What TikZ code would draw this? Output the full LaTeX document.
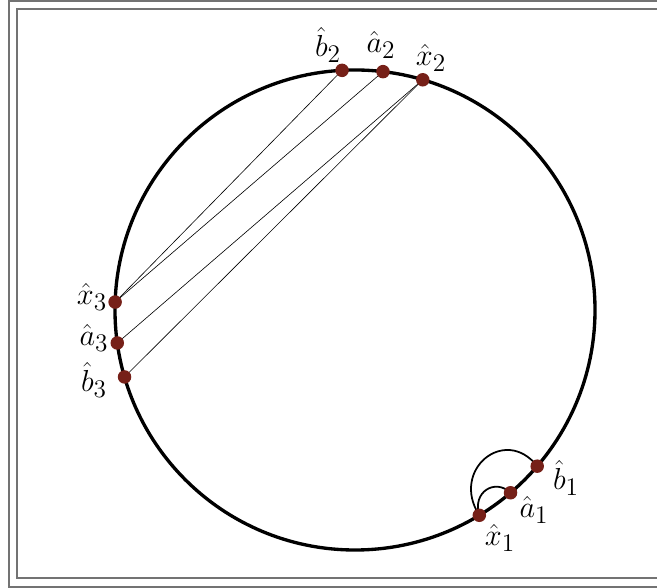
\documentclass[tikz,border=0pt]{standalone}
\usepackage{amsmath,amssymb}
\usepackage{tikz}
\usetikzlibrary{positioning}
\definecolor{ptred}{RGB}{118,32,24}
\tikzset{
  pt/.style={circle, fill=ptred, inner sep=0pt, minimum size=0.27cm},
  lbl/.style={font=\fontsize{19}{22}\selectfont, inner sep=1pt},
  chord/.style={line width=0.35pt, black},
  hop/.style={line width=1pt, black},
  frameline/.style={draw=black!55, line width=0.8pt}
}

\begin{document}
\begin{tikzpicture}
  % picture area
  \clip (-7.1,-5.56) rectangle (6.04,6.2);
  \draw[frameline] (-6.92,-5.54) rectangle (7.0,6.18);
  \draw[frameline] (-6.76,-5.36) rectangle (6.8,6.02);

  % the circle
  \draw[line width=1.9pt] (0,0) circle (4.8);

  % points on the circle
  \coordinate (cb2) at (93.1:4.8);
  \coordinate (ca2) at (83.3:4.8);
  \coordinate (cx2) at (73.6:4.8);
  \coordinate (cx3) at (178.1:4.8);
  \coordinate (ca3) at (187.9:4.8);
  \coordinate (cb3) at (196.2:4.8);
  \coordinate (cb1) at (-40.6:4.8);
  \coordinate (ca1) at (-49.6:4.8);
  \coordinate (cx1) at (-58.8:4.8);

  % chords
  \draw[chord] (cx3) -- (cb2);
  \draw[chord] (cx3) -- (ca2);
  \draw[chord] (ca3) -- (cx2);
  \draw[chord] (cb3) -- (cx2);

  % arcs
  \draw[hop] (cb1) .. controls (3.0,-2.3) and (1.9,-3.2) .. (cx1);
  \draw[hop] (ca1) .. controls (2.8,-3.36) and (2.34,-3.64) .. (cx1);

  % dots
  \node[pt] (b2) at (cb2) {};
  \node[pt] (a2) at (ca2) {};
  \node[pt] (x2) at (cx2) {};
  \node[pt] (x3) at (cx3) {};
  \node[pt] (a3) at (ca3) {};
  \node[pt] (b3) at (cb3) {};
  \node[pt] (b1) at (cb1) {};
  \node[pt] (a1) at (ca1) {};
  \node[pt] (x1) at (cx1) {};

  % labels
  \node[lbl] (lb2) at (-0.54,5.3) {$\hat{b}_2$};
  \node[lbl] (la2) at (0.52,5.3) {$\hat{a}_2$};
  \node[lbl] (lx2) at (1.52,5.04) {$\hat{x}_2$};
  \node[lbl] (lx3) at (-5.26,0.26) {$\hat{x}_3$};
  \node[lbl] (la3) at (-5.22,-0.56) {$\hat{a}_3$};
  \node[lbl] (lb3) at (-5.22,-1.4) {$\hat{b}_3$};
  \node[lbl] (lb1) at (4.22,-3.36) {$\hat{b}_1$};
  \node[lbl] (la1) at (3.58,-4.0) {$\hat{a}_1$};
  \node[lbl] (lx1) at (2.9,-4.56) {$\hat{x}_1$};
\end{tikzpicture}
\end{document}
